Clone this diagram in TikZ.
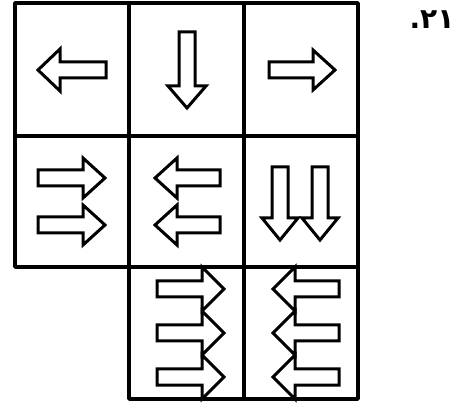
\documentclass[tikz,border=0pt]{standalone}
\usepackage{fontspec}
\newfontfamily\arabicfont[Script=Arabic]{DejaVu Sans}
\TeXXeTstate=1
\tikzset{
	gridline/.style={line width=3.4pt,line join=round},
	arrowline/.style={line width=3pt,line join=miter,fill=white},
	pics/barrow/.style n args={2}{code={
		\draw [arrowline] (-#1,-8)--(-22,-8)--(-22,-#2)--(0,0)--(-22,#2)--(-22,8)--(-#1,8)--cycle;
	}}
}
\begin{document}
\begin{tikzpicture}[x=1pt,y=-1pt]
				\useasboundingbox (0,0) rectangle (461,406);

				\coordinate (A0) at (15,3);
				\coordinate (A1) at (129,3);
				\coordinate (A2) at (244,3);
				\coordinate (A3) at (358,3);
				\coordinate (B0) at (15,136);
				\coordinate (B3) at (358,136);
				\coordinate (C0) at (15,267);
				\coordinate (C1) at (129,267);
				\coordinate (C3) at (358,267);
				\coordinate (D1) at (129,399);
				\coordinate (D2) at (244,399);
				\coordinate (D3) at (358,399);

				% first row
				\pic [rotate=180] at (38,70) {barrow={68}{21}};
				\pic [rotate=-90] at (187,108) {barrow={76}{19}};
				\pic at (335,70) {barrow={66}{20}};

				% second row
				\pic at (105,178) {barrow={67}{20}};
				\pic at (105,225) {barrow={67}{20}};
				\pic [rotate=180] at (155,178) {barrow={65}{20}};
				\pic [rotate=180] at (155,225) {barrow={65}{20}};
				\pic [rotate=-90] at (280,240) {barrow={73}{18}};
				\pic [rotate=-90] at (320,240) {barrow={73}{18}};

				% third row
				\pic at (224,289) {barrow={67}{22}};
				\pic at (224,333) {barrow={67}{22}};
				\pic at (224,377) {barrow={67}{22}};
				\pic [rotate=180] at (273,289) {barrow={66}{22}};
				\pic [rotate=180] at (273,333) {barrow={66}{22}};
				\pic [rotate=180] at (273,377) {barrow={66}{22}};

				\draw [gridline] (A0)--(A3)--(C3)--(C0)--cycle;
				\draw [gridline] (B0)--(B3);
				\draw [gridline] (A1)--(D1)--(D3)--(C3);
				\draw [gridline] (A2)--(D2);

				\node (num) at (432,20) {\arabicfont\fontsize{28}{32}\selectfont\bfseries\beginR\beginL ٢١\endL.\endR};

			\end{tikzpicture}
\end{document}
